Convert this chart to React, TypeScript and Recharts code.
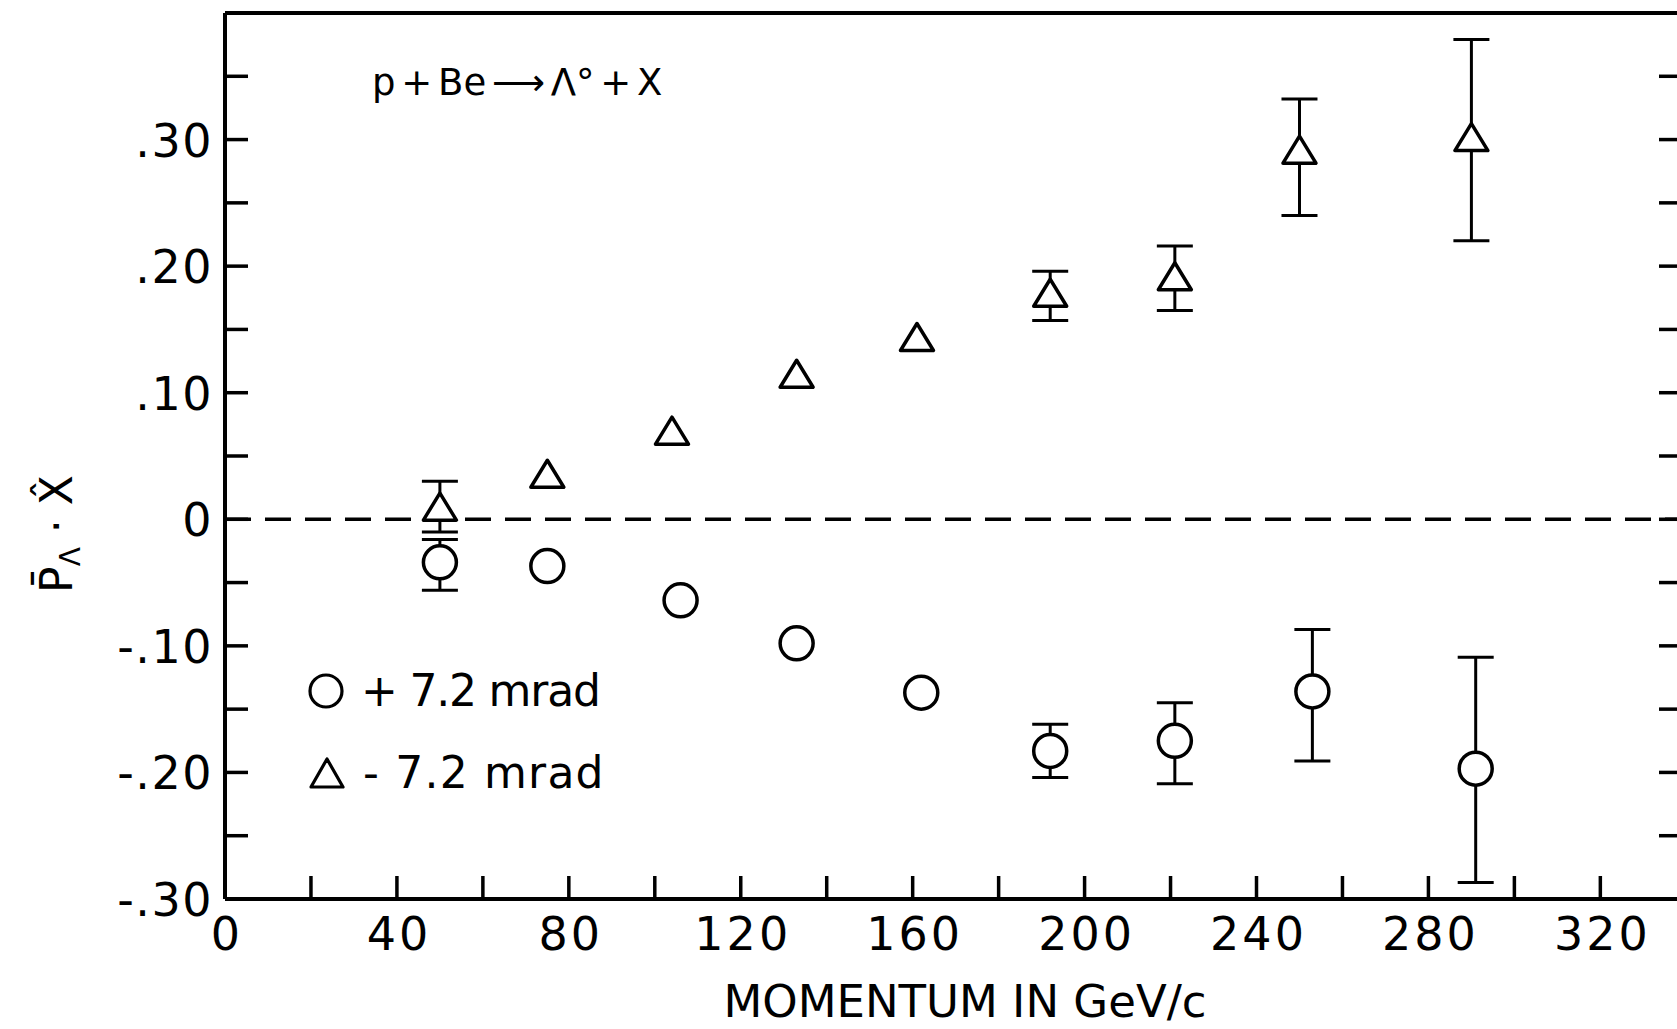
import React from 'react';
import { ScatterChart, Scatter, XAxis, YAxis, ErrorBar, ReferenceLine, Customized } from 'recharts';

const FONT = '"DejaVu Sans", "Liberation Sans", sans-serif';

// +7.2 mrad (circles)
const plusMomentum = [50, 75, 106, 133, 162, 192, 221, 253, 291];
const plusPolarization = [-0.034, -0.037, -0.064, -0.098, -0.137, -0.183, -0.175, -0.136, -0.197];
const plusErrDown = [0.022, null, null, null, null, 0.021, 0.034, 0.055, 0.09];
const plusErrUp = [0.018, null, null, null, null, 0.021, 0.03, 0.049, 0.088];

// -7.2 mrad (triangles)
const minusMomentum = [50, 75, 104, 133, 161, 192, 221, 250, 290];
const minusPolarization = [0.01, 0.036, 0.07, 0.115, 0.144, 0.179, 0.192, 0.292, 0.302];
const minusErrDown = [0.02, null, null, null, null, 0.022, 0.027, 0.052, 0.082];
const minusErrUp = [0.02, null, null, null, null, 0.017, 0.024, 0.04, 0.077];

const xTicks = [0, 20, 40, 60, 80, 100, 120, 140, 160, 180, 200, 220, 240, 260, 280, 300, 320];
const xLabelTicks = [0, 40, 80, 120, 160, 200, 240, 280, 320];
const yTicks = [-0.3, -0.25, -0.2, -0.15, -0.1, -0.05, 0, 0.05, 0.1, 0.15, 0.2, 0.25, 0.3, 0.35];
const yLabelTicks = [-0.3, -0.2, -0.1, 0, 0.1, 0.2, 0.3];
const yTickLabels = ['-.30', '-.20', '-.10', '0', '.10', '.20', '.30'];

const titleText = 'p + Be \u27F6 \u039B\u00B0 + X';
const xAxisTitle = 'MOMENTUM IN GeV/c';
const legendLabels = ['+ 7.2 mrad', '- 7.2 mrad'];

const X_DOMAIN: [number, number] = [0, 339];
const Y_DOMAIN: [number, number] = [-0.3, 0.4];

const build = (xs: number[], ys: number[], lo: (number | null)[], hi: (number | null)[]) =>
  xs.map((x, i) => ({
    x,
    y: ys[i],
    err: lo[i] == null ? undefined : [lo[i] as number, hi[i] as number],
  }));

const plusData = build(plusMomentum, plusPolarization, plusErrDown, plusErrUp);
const minusData = build(minusMomentum, minusPolarization, minusErrDown, minusErrUp);

const TICK_LEN = 23;
const TICK_W = 3.5;

const BottomTick = (props: any) => {
  const { x, y, payload } = props;
  const v = payload.value;
  const showLabel = xLabelTicks.indexOf(v) >= 0;
  return (
    <g>
      {v !== 0 && <line x1={x} y1={y} x2={x} y2={y - TICK_LEN} stroke="#000" strokeWidth={TICK_W} />}
      {showLabel && (
        <text x={x + 2} y={y + 51} textAnchor="middle" fontSize={46} fontFamily={FONT} letterSpacing={3} fill="#000">
          {String(v)}
        </text>
      )}
    </g>
  );
};

const TopTick = (props: any) => {
  const { x, y, payload } = props;
  if (payload.value === 0) return <g />;
  return <line x1={x} y1={y} x2={x} y2={y + TICK_LEN} stroke="#000" strokeWidth={TICK_W} />;
};

const LeftTick = (props: any) => {
  const { x, y, payload } = props;
  const v = payload.value;
  const idx = yLabelTicks.findIndex((t) => Math.abs(t - v) < 1e-9);
  return (
    <g>
      <line x1={x} y1={y} x2={x + TICK_LEN} y2={y} stroke="#000" strokeWidth={TICK_W} />
      {idx >= 0 && (
        <text x={x - 12} y={y} dy={17} textAnchor="end" fontSize={46} fontFamily={FONT} letterSpacing={1.5} fill="#000">
          {yTickLabels[idx]}
        </text>
      )}
    </g>
  );
};

const RightTick = (props: any) => {
  const { x, y } = props;
  return <line x1={x} y1={y} x2={x - TICK_LEN} y2={y} stroke="#000" strokeWidth={TICK_W} />;
};

const CircleShape = (p: any) => (
  <circle cx={p.cx} cy={p.cy} r={16.5} fill="#fff" stroke="#000" strokeWidth={3.5} />
);

const trianglePath = (cx: number, cy: number, hw: number, hh: number) =>
  `M${cx},${cy - hh}L${cx + hw},${cy + hh}L${cx - hw},${cy + hh}Z`;

const TriangleShape = (p: any) => (
  <path d={trianglePath(p.cx, p.cy, 16.5, 13.5)} fill="#fff" stroke="#000" strokeWidth={3.5} strokeLinejoin="round" />
);

const Texts = () => (
  <g fontFamily={FONT} fill="#000">
    <text x={372} y={95} fontSize={37} wordSpacing={-6}>
      {titleText}
    </text>
    <text x={965} y={1017} fontSize={45} textAnchor="middle">
      {xAxisTitle}
    </text>
    <text transform="rotate(-90)" x={-534} y={72} textAnchor="middle" fontSize={44}>
      <tspan>{'P\u0304'}</tspan>
      <tspan fontSize={28} dy={8}>{'\u039B'}</tspan>
      <tspan dy={-8}>{' \u00B7 X\u0302'}</tspan>
    </text>
    <circle cx={326} cy={691} r={16} fill="#fff" stroke="#000" strokeWidth={3.2} />
    <text x={361} y={706} fontSize={44} letterSpacing={-1.2}>
      {legendLabels[0]}
    </text>
    <path d={trianglePath(327, 773, 16, 14)} fill="#fff" stroke="#000" strokeWidth={3.2} strokeLinejoin="round" />
    <text x={363} y={788} fontSize={44} letterSpacing={1.2}>
      {legendLabels[1]}
    </text>
  </g>
);

export default function App() {
  return (
    <div
      style={{
        position: 'fixed',
        left: 0,
        top: 0,
        width: 1677,
        height: 1029,
        overflow: 'hidden',
        background: '#fff',
      }}
    >
      <ScatterChart width={1700} height={1029} margin={{ top: 12, right: 17, bottom: 0, left: 0 }}>
        <XAxis
          dataKey="x"
          type="number"
          domain={X_DOMAIN}
          ticks={xTicks}
          interval={0}
          tick={BottomTick}
          tickLine={false}
          tickSize={0}
          tickMargin={0}
          axisLine={{ stroke: '#000', strokeWidth: 4 }}
          height={130}
          allowDataOverflow
        />
        <XAxis
          xAxisId="top"
          orientation="top"
          type="number"
          domain={X_DOMAIN}
          ticks={xTicks}
          interval={0}
          tick={TopTick}
          tickLine={false}
          tickSize={0}
          tickMargin={0}
          axisLine={{ stroke: '#000', strokeWidth: 4 }}
          height={1}
          allowDataOverflow
        />
        <YAxis
          dataKey="y"
          type="number"
          domain={Y_DOMAIN}
          ticks={yTicks}
          interval={0}
          tick={LeftTick}
          tickLine={false}
          tickSize={0}
          tickMargin={0}
          axisLine={{ stroke: '#000', strokeWidth: 4 }}
          width={225}
          allowDataOverflow
        />
        <YAxis
          yAxisId="right"
          orientation="right"
          type="number"
          domain={Y_DOMAIN}
          ticks={yTicks}
          interval={0}
          tick={RightTick}
          tickLine={false}
          tickSize={0}
          tickMargin={0}
          axisLine={{ stroke: '#000', strokeWidth: 4 }}
          width={1}
          allowDataOverflow
        />
        <ReferenceLine y={0} stroke="#000" strokeWidth={3.5} strokeDasharray="26 14" />
        <Scatter data={plusData} dataKey="y" shape={CircleShape} isAnimationActive={false}>
          <ErrorBar dataKey="err" direction="y" width={18} stroke="#000" strokeWidth={3} isAnimationActive={false} />
        </Scatter>
        <Scatter data={minusData} dataKey="y" shape={TriangleShape} isAnimationActive={false}>
          <ErrorBar dataKey="err" direction="y" width={18} stroke="#000" strokeWidth={3} isAnimationActive={false} />
        </Scatter>
        <Customized component={Texts} />
      </ScatterChart>
    </div>
  );
}
